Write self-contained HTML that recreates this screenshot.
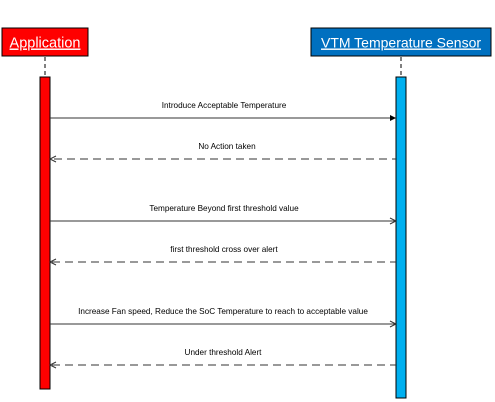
<!DOCTYPE html>
<html><head><meta charset="utf-8"><style>
body{margin:0;background:#fff;width:495px;height:402px;overflow:hidden}
svg{display:block;font-family:"Liberation Sans",sans-serif}
</style></head><body>
<svg width="495" height="402" viewBox="0 0 495 402">
<g>
<rect x="2" y="28" width="86" height="28" fill="#ff0000" stroke="#000" stroke-width="1"/>
<text x="45" y="47.5" text-anchor="middle" font-size="14.5" fill="#fff" text-decoration="underline">Application</text>
</g>
<g>
<rect x="311" y="28" width="180" height="28" fill="#0070c0" stroke="#000" stroke-width="1"/>
<text x="401" y="47.5" text-anchor="middle" font-size="14" fill="#fff" text-decoration="underline">VTM Temperature Sensor</text>
</g>
<line x1="45" y1="57" x2="45" y2="77" stroke="#000" stroke-dasharray="4,3"/>
<line x1="401" y1="57" x2="401" y2="77" stroke="#000" stroke-dasharray="4,3"/>
<rect x="40" y="77" width="10" height="312" fill="#ff0000" stroke="#000"/>
<rect x="396" y="77" width="10" height="321" fill="#00b0f0" stroke="#000"/>
<g font-size="8.2" fill="#000" text-anchor="middle">
<g>
<text x="224" y="108">Introduce Acceptable Temperature</text>
<line x1="50" y1="118" x2="392" y2="118" stroke="#333"/>
<polygon points="396,118 390,115 390,121" fill="#000"/>
</g>
<g>
<text x="227" y="149">No Action taken</text>
<line x1="54" y1="159" x2="396" y2="159" stroke="#333" stroke-dasharray="8,5"/>
<polyline points="56,156 50,159 56,162" fill="none" stroke="#333"/>
</g>
<g>
<text x="224" y="211">Temperature Beyond first threshold value</text>
<line x1="50" y1="221" x2="396" y2="221" stroke="#333"/>
<polyline points="390,218 396,221 390,224" fill="none" stroke="#333"/>
</g>
<g>
<text x="224" y="252">first threshold cross over alert</text>
<line x1="52" y1="262" x2="396" y2="262" stroke="#333" stroke-dasharray="8,5"/>
<polyline points="56,259 50,262 56,265" fill="none" stroke="#333"/>
</g>
<g>
<text x="223" y="314">Increase Fan speed, Reduce the SoC Temperature to reach to acceptable value</text>
<line x1="50" y1="324" x2="396" y2="324" stroke="#333"/>
<polyline points="390,321 396,324 390,327" fill="none" stroke="#333"/>
</g>
<g>
<text x="223" y="355">Under threshold Alert</text>
<line x1="52" y1="365" x2="396" y2="365" stroke="#333" stroke-dasharray="8,5"/>
<polyline points="56,362 50,365 56,368" fill="none" stroke="#333"/>
</g>
</g>
</svg>
</body></html>
